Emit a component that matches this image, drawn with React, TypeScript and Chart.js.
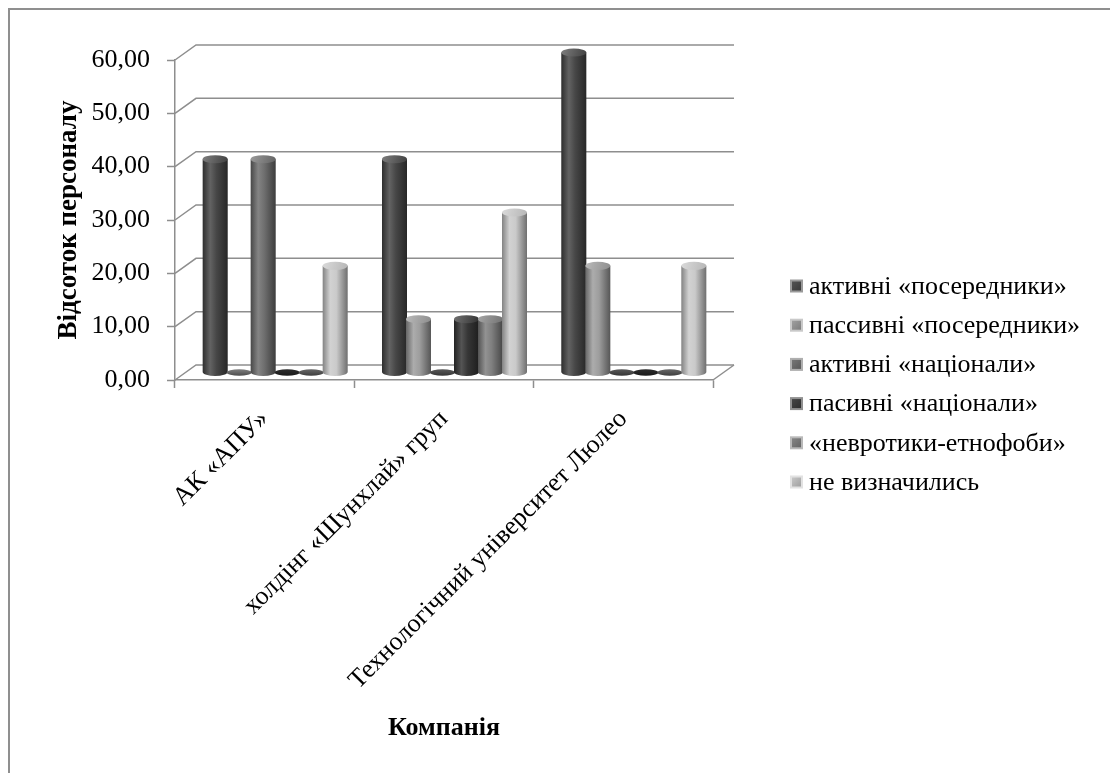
import React, { useEffect, useRef } from 'react';
import { Chart, registerables } from 'chart.js';

Chart.register(...registerables);

// ---------- data ----------
const categories = ['АК «АПУ»', 'холдінг «Шунхлай» груп', 'Технологічний університет Люлео'];
const seriesNames = [
  'активні «посередники»',
  'пассивні «посередники»',
  'активні «націонали»',
  'пасивні «націонали»',
  '«невротики-етнофоби»',
  'не визначились',
];
const activeMediators = [40, 40, 60];
const passiveMediators = [0, 10, 20];
const activeNationals = [40, 0, 0];
const passiveNationals = [0, 10, 0];
const neuroticEthnophobes = [0, 10, 0];
const undecided = [20, 30, 20];
const yMin = 0;
const yMax = 60;
const yStep = 10;
const xTitle = 'Компанія';
const yTitle = 'Відсоток персоналу';

// ---------- styles ----------
const seriesColors = ['#474747', '#9d9d9d', '#6e6e6e', '#363636', '#7f7f7f', '#cacaca'];
const FONT = "'Liberation Serif', 'Times New Roman', serif";
const GRID = '#8e8e8e';
const DX = 21;
const DY = -15;

function shade(hex: string, f: number): string {
  const n = parseInt(hex.slice(1), 16);
  let r = (n >> 16) & 255;
  let g = (n >> 8) & 255;
  let b = n & 255;
  const t = f < 0 ? 0 : 255;
  const p = Math.abs(f);
  r = Math.round(r + (t - r) * p);
  g = Math.round(g + (t - g) * p);
  b = Math.round(b + (t - b) * p);
  return `rgb(${r},${g},${b})`;
}

const frame3d = {
  id: 'frame3d',
  beforeDatasetsDraw(chart: any) {
    const { ctx, chartArea, scales } = chart;
    const { left, right, bottom } = chartArea;
    const y = scales.y;
    ctx.save();
    ctx.strokeStyle = GRID;
    ctx.lineWidth = 1.5;
    y.ticks.forEach((t: any) => {
      const py = y.getPixelForValue(t.value);
      ctx.beginPath();
      ctx.moveTo(left, py);
      ctx.lineTo(left + DX, py + DY);
      ctx.lineTo(right + DX, py + DY);
      ctx.stroke();
    });
    ctx.beginPath();
    ctx.moveTo(right, bottom);
    ctx.lineTo(right + DX, bottom + DY);
    ctx.stroke();
    ctx.restore();
    ctx.save();
    ctx.translate(DX / 2, DY / 2);
  },
  afterDatasetsDraw(chart: any) {
    const { ctx } = chart;
    chart.data.datasets.forEach((ds: any, di: number) => {
      const meta = chart.getDatasetMeta(di);
      const c = seriesColors[di];
      meta.data.forEach((el: any, i: number) => {
        const { x, y, base, width } = el.getProps(['x', 'y', 'base', 'width'], true);
        const w = width + 1;
        const l = x - w / 2;
        const r = x + w / 2;
        const rx = w / 2;
        const ry = Math.max(3, w * 0.16);
        const v = ds.data[i];
        if (v > 0) {
          const g = ctx.createLinearGradient(l, 0, r, 0);
          g.addColorStop(0, shade(c, -0.35));
          g.addColorStop(0.3, shade(c, 0.15));
          g.addColorStop(0.55, c);
          g.addColorStop(1, shade(c, -0.45));
          ctx.fillStyle = g;
          ctx.beginPath();
          ctx.moveTo(l, y);
          ctx.lineTo(l, base);
          ctx.ellipse(x, base, rx, ry, 0, Math.PI, 0, true);
          ctx.lineTo(r, y);
          ctx.closePath();
          ctx.fill();
          const tg = ctx.createLinearGradient(l, y - ry, r, y + ry);
          tg.addColorStop(0, shade(c, 0.3));
          tg.addColorStop(1, shade(c, -0.1));
          ctx.fillStyle = tg;
          ctx.beginPath();
          ctx.ellipse(x, y, rx, ry, 0, 0, Math.PI * 2);
          ctx.fill();
        } else {
          const zg = ctx.createLinearGradient(0, base - ry, 0, base + ry);
          zg.addColorStop(0, shade(c, -0.15));
          zg.addColorStop(1, shade(c, -0.55));
          ctx.fillStyle = zg;
          ctx.beginPath();
          ctx.ellipse(x, base, rx, ry * 0.8, 0, 0, Math.PI * 2);
          ctx.fill();
        }
      });
    });
    ctx.restore();
  },
};

const LEGEND_X = 790;
const LEGEND_Y = 286;
const LEGEND_GAP = 39.2;
const LEGEND_BOX = 13;

const legend3d = {
  id: 'legend3d',
  afterDraw(chart: any) {
    const { ctx } = chart;
    ctx.save();
    ctx.font = `26px ${FONT}`;
    ctx.textBaseline = 'middle';
    ctx.textAlign = 'left';
    chart.data.datasets.forEach((ds: any, i: number) => {
      const c = seriesColors[i];
      const cy = LEGEND_Y + i * LEGEND_GAP;
      const bx = LEGEND_X;
      const by = cy - LEGEND_BOX / 2;
      ctx.fillStyle = shade(c, 0.45);
      ctx.fillRect(bx, by, LEGEND_BOX, LEGEND_BOX);
      const g = ctx.createLinearGradient(bx, by, bx + LEGEND_BOX, by + LEGEND_BOX);
      g.addColorStop(0, shade(c, 0.1));
      g.addColorStop(1, shade(c, -0.25));
      ctx.fillStyle = g;
      ctx.fillRect(bx + 2, by + 2, LEGEND_BOX - 4, LEGEND_BOX - 4);
      ctx.fillStyle = '#000';
      ctx.fillText(ds.label, bx + 19, cy + 1);
    });
    ctx.restore();
  },
};

export default function App() {
  const ref = useRef<HTMLCanvasElement | null>(null);
  useEffect(() => {
    if (!ref.current) return;
    const seriesData = [activeMediators, passiveMediators, activeNationals, passiveNationals, neuroticEthnophobes, undecided];
    const chart = new Chart(ref.current, {
      type: 'bar',
      data: {
        labels: categories,
        datasets: seriesNames.map((name, i) => ({
          label: name,
          data: seriesData[i],
          backgroundColor: seriesColors[i],
          borderWidth: 0,
          categoryPercentage: 0.803,
          barPercentage: 1,
        })),
      },
      options: {
        responsive: false,
        animation: false,
        events: [],
        layout: { padding: { top: 60, right: 397, bottom: 0, left: 0 } },
        plugins: {
          legend: { display: false },
          tooltip: { enabled: false },
          title: { display: false },
        },
        scales: {
          x: {
            grid: { display: true, drawOnChartArea: false, drawTicks: true, tickLength: 8, tickColor: GRID, tickWidth: 1.5 },
            border: { display: true, color: GRID, width: 1.5 },
            ticks: {
              color: '#000',
              font: { family: FONT, size: 26 },
              minRotation: 45,
              maxRotation: 45,
              padding: 16,
              autoSkip: false,
            },
            title: {
              display: true,
              text: xTitle,
              color: '#000',
              font: { family: FONT, size: 26, weight: 'bold' },
              padding: { top: 0, bottom: 29 },
            },
            afterFit: (s: any) => {
              s.height = 393;
            },
          },
          y: {
            min: yMin,
            max: yMax,
            grid: { display: true, drawOnChartArea: false, drawTicks: true, tickLength: 8, tickColor: GRID, tickWidth: 1.5 },
            border: { display: true, color: GRID, width: 1.5 },
            ticks: {
              stepSize: yStep,
              color: '#000',
              font: { family: FONT, size: 26 },
              padding: 17,
              callback: (v: any) => Number(v).toFixed(2).replace('.', ','),
            },
            title: {
              display: true,
              text: yTitle,
              color: '#000',
              font: { family: FONT, size: 27, weight: 'bold' },
              padding: { top: 53, bottom: 0 },
            },
            afterFit: (s: any) => {
              s.width = 175;
            },
          },
        },
      },
      plugins: [frame3d, legend3d],
    });
    return () => chart.destroy();
  }, []);

  return (
    <div style={{ position: 'absolute', left: 0, top: 0, width: 1110, height: 773, overflow: 'hidden', background: '#fff' }}>
      <div
        style={{
          position: 'absolute',
          left: 8,
          top: 8,
          width: 1200,
          height: 900,
          borderLeft: '2px solid #8f8f8f',
          borderTop: '2px solid #8f8f8f',
        }}
      />
      <canvas ref={ref} width={1110} height={773} style={{ position: 'absolute', left: 0, top: 0, width: 1110, height: 773 }} />
    </div>
  );
}
